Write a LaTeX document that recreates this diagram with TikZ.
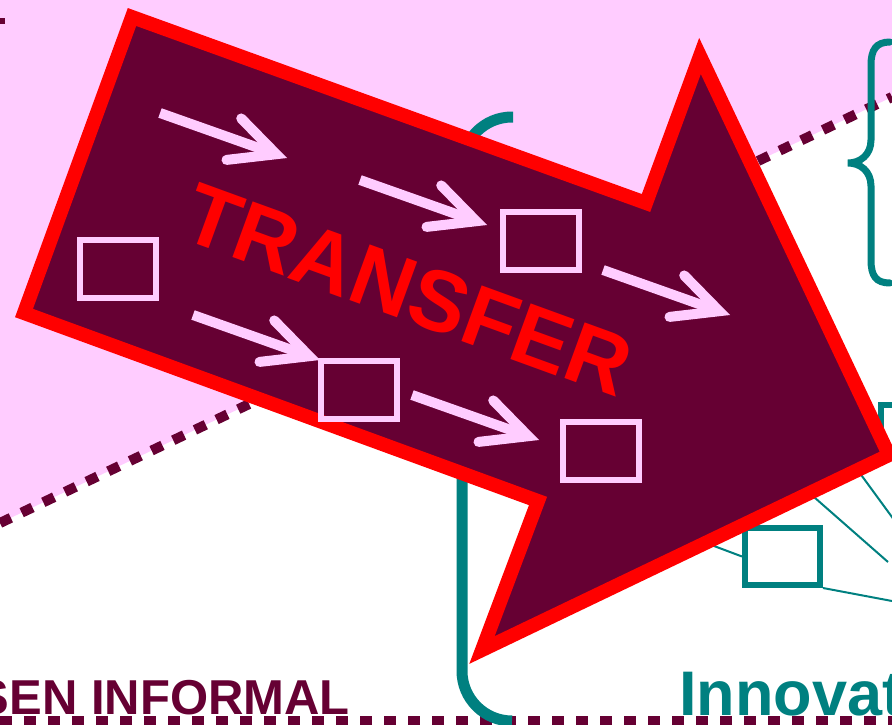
\documentclass[tikz,border=0pt]{standalone}
\usepackage{fontspec}
\setmainfont{Liberation Sans}
\usepackage{tikz}
\usetikzlibrary{arrows.meta,calc}
\usetikzlibrary{positioning}
\definecolor{maroon}{HTML}{660033}
\definecolor{pinkish}{HTML}{FFCCFF}
\definecolor{tealish}{HTML}{008080}
\definecolor{redish}{HTML}{FF0000}

\begin{document}
\begin{tikzpicture}[x=1pt,y=-1pt,
        dots/.style={draw=maroon, line width=10pt, dash pattern=on 12pt off 12pt},
        pbox/.style={draw=pinkish, line width=6pt, minimum width=76pt, minimum height=58pt, inner sep=0pt},
        tbox/.style={draw=tealish, line width=6pt, minimum width=75pt, minimum height=57pt, inner sep=0pt},
        flow/.style={draw=pinkish, line width=10pt, -{Straight Barb[length=45pt,width=44pt,line cap=round,line join=miter]}},
        wire/.style={draw=tealish, line width=2pt}]
                \useasboundingbox (0,0) rectangle (892,725);
                \clip (0,0) rectangle (892,725);
                \fill[pinkish] (0,0) -- (892,0) -- (892,97) -- (0,523) -- cycle;
                \fill[maroon] (0,18) rectangle (5,24);
                \draw[dots] (0,523) -- (892,97);
                \draw[dots] (0,721) -- (892,721);
                \node[anchor=base east, inner sep=0pt, text=maroon, font=\bfseries\fontsize{49}{49}\selectfont] (informal) at (350,714) {SEN INFORMAL};
                \node[anchor=base west, inner sep=0pt, text=tealish, font=\bfseries\fontsize{63}{63}\selectfont] (innov) at (679,715) {Innovat};
                \draw[tealish, line width=11pt, rounded corners=50pt] (513,117) -- (462,117) -- (462,721) -- (512,721);
                \draw[tealish, line width=7pt, line cap=round] (890,42) .. controls (876,42) and (871,50) .. (871,65) -- (871,140)
                    .. controls (871,155) and (860,163) .. (848,163) .. controls (860,163) and (871,171) .. (871,186)
                    -- (871,260) .. controls (871,276) and (876,283) .. (890,283);
                \node[tbox, minimum width=80pt, minimum height=50pt] (tright) at (921,430) {};
                \node[tbox] (tlow) at (782.5,556.5) {};
                \coordinate (w1) at (690,537);
                \coordinate (w2) at (892,601);
                \coordinate (w3a) at (790,476);
                \coordinate (w3b) at (888,562);
                \coordinate (w4a) at (840,446);
                \coordinate (w4b) at (900,528);
                \draw[wire] (w1) -- (tlow.west);
                \draw[wire] (tlow.south east) -- (w2);
                \draw[wire] (w3a) -- (w3b);
                \draw[wire] (w4a) -- (w4b);
                \filldraw[draw=redish, fill=maroon, line width=14pt, line join=miter]
                    (132,17) -- (646,203) -- (700,56) -- (889,455) -- (482,650) -- (538,501) -- (24,313) -- cycle;
                \node[pbox] (p1) at (117.5,269) {};
                \node[pbox] (p2) at (541,241) {};
                \node[pbox] (p3) at (359,390) {};
                \node[pbox] (p4) at (601,451) {};
                \foreach \n/\x/\y in {1/160/113, 2/360/180, 3/603/270, 4/193/315, 5/412/395}{
                    \coordinate (s\n) at (\x,\y);
                    \coordinate (e\n) at ($(s\n)+(127,45)$);
                    \draw[flow] (s\n) -- (e\n);
                }
                \node[anchor=base, rotate=-20, text=redish, font=\bfseries\fontsize{86}{86}\selectfont] (transfer) at (398,318) {TRANSFER};
            \end{tikzpicture}
\end{document}
